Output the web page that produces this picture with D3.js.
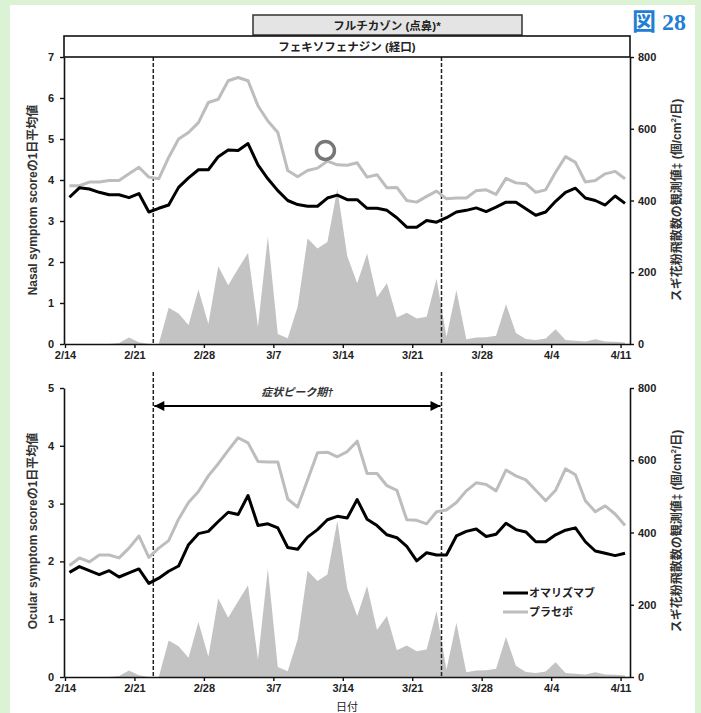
<!DOCTYPE html>
<html>
<head>
<meta charset="utf-8">
<script src="https://cdn.jsdelivr.net/npm/d3@7"></script>
<style>
  body { margin: 0; background: #dcf2d4; }
  svg { display: block; }
  .tick text { font-family: "Liberation Sans", Arial, sans-serif; font-weight: bold; font-size: 11px; fill: #222; }
</style>
</head>
<body>
<script>
"use strict";

// days counted from 2/14 (day 0) to 4/11 (day 56)
var tickLabels = ['2/14', '2/21', '2/28', '3/7', '3/14', '3/21', '3/28', '4/4', '4/11'];

var nasalOmalizumab = [3.58, 3.81, 3.78, 3.70, 3.64, 3.64, 3.57, 3.67, 3.22, 3.31,
    3.39, 3.82, 4.05, 4.25, 4.25, 4.57, 4.73, 4.72, 4.89, 4.37,
    4.03, 3.74, 3.50, 3.40, 3.36, 3.36, 3.56, 3.63, 3.52, 3.52,
    3.31, 3.31, 3.26, 3.08, 2.85, 2.85, 3.01, 2.97, 3.08, 3.22,
    3.26, 3.32, 3.23, 3.34, 3.46, 3.46, 3.30, 3.14, 3.22, 3.48,
    3.70, 3.80, 3.56, 3.50, 3.39, 3.61, 3.43];

var nasalPlacebo = [3.86, 3.86, 3.95, 3.95, 3.99, 3.99, 4.15, 4.31, 4.07, 4.03,
    4.55, 5.00, 5.16, 5.40, 5.89, 5.97, 6.42, 6.50, 6.42, 5.81,
    5.44, 5.16, 4.23, 4.08, 4.23, 4.29, 4.46, 4.37, 4.36, 4.42,
    4.07, 4.13, 3.81, 3.82, 3.50, 3.46, 3.60, 3.73, 3.54, 3.56,
    3.56, 3.74, 3.76, 3.65, 4.04, 3.93, 3.91, 3.70, 3.76, 4.19,
    4.57, 4.43, 3.95, 3.99, 4.15, 4.21, 4.03];

var ocularOmalizumab = [1.81, 1.91, 1.84, 1.77, 1.84, 1.73, 1.80, 1.87, 1.62, 1.71,
    1.83, 1.92, 2.29, 2.48, 2.52, 2.69, 2.85, 2.81, 3.14, 2.62,
    2.65, 2.58, 2.24, 2.21, 2.42, 2.55, 2.72, 2.78, 2.75, 3.07,
    2.73, 2.62, 2.46, 2.41, 2.26, 2.01, 2.15, 2.11, 2.11, 2.44,
    2.52, 2.56, 2.43, 2.47, 2.66, 2.55, 2.51, 2.34, 2.34, 2.46,
    2.54, 2.58, 2.34, 2.18, 2.14, 2.10, 2.14];

var ocularPlacebo = [1.93, 2.06, 1.99, 2.11, 2.11, 2.06, 2.23, 2.44, 2.07, 2.23,
    2.36, 2.73, 3.02, 3.21, 3.48, 3.69, 3.92, 4.14, 4.05, 3.73,
    3.72, 3.72, 3.08, 2.94, 3.41, 3.88, 3.89, 3.81, 3.90, 4.08,
    3.52, 3.52, 3.31, 3.23, 2.72, 2.71, 2.65, 2.86, 2.89, 3.02,
    3.22, 3.36, 3.33, 3.22, 3.58, 3.48, 3.41, 3.23, 3.05, 3.23,
    3.60, 3.50, 3.05, 2.86, 2.96, 2.82, 2.62];

// cedar pollen count (grains/cm2/day)
var pollen = [0, 0, 0, 0, 0, 3, 18, 5, 0, 0,
    101, 85, 53, 152, 56, 217, 164, 210, 254, 48,
    300, 28, 16, 104, 294, 266, 284, 432, 245, 169,
    252, 130, 169, 74, 87, 71, 76, 182, 20, 150,
    13, 18, 19, 23, 111, 31, 14, 11, 15, 41,
    11, 9, 7, 13, 7, 6, 4];

var peakPeriod = [8.45, 37.5];
var legendNames = ['オマリズマブ', 'プラセボ'];
var circleMark = {day: 25.8, value: 4.72};

var W = 701, H = 713;
var FONT = '"Liberation Sans", Arial, "Noto Sans CJK JP", sans-serif';

var svg = d3.select('body').append('svg').attr('width', W).attr('height', H);

// white sheet on green page
svg.append('rect').attr('x', 10).attr('y', 5).attr('width', 685).attr('height', H - 5).attr('fill', '#fff');

svg.append('text')
    .attr('x', 686).attr('y', 30)
    .attr('text-anchor', 'end')
    .attr('font-family', '"Liberation Serif", "Noto Sans CJK JP", serif')
    .attr('font-size', 24)
    .attr('font-weight', 'bold')
    .attr('fill', '#1f7fd4')
    .text('図 28');

var x = d3.scaleLinear().domain([-0.55, 56.5]).range([64, 630]);
var yPollenMax = 800;

function drawPanel(cfg) {

    var y = d3.scaleLinear().domain([0, cfg.yMax]).range([cfg.bottom, cfg.top]);
    var yp = d3.scaleLinear().domain([0, yPollenMax]).range([cfg.bottom, cfg.top]);
    var g = svg.append('g');

    // pollen area
    g.append('path')
        .datum(pollen)
        .attr('fill', '#c3c3c3')
        .attr('d', d3.area()
            .x(function(d, i) { return x(i); })
            .y0(yp(0))
            .y1(function(d) { return yp(d); }));

    // peak period dashed lines
    g.selectAll('line.peak')
        .data(peakPeriod)
        .enter().append('line')
        .attr('class', 'peak')
        .attr('x1', function(d) { return x(d); })
        .attr('x2', function(d) { return x(d); })
        .attr('y1', cfg.dashTop)
        .attr('y2', cfg.bottom)
        .attr('stroke', '#222')
        .attr('stroke-width', 1.5)
        .attr('stroke-dasharray', '4,2');

    var line = d3.line()
        .x(function(d, i) { return x(i); })
        .y(function(d) { return y(d); });

    g.append('path').datum(cfg.placebo)
        .attr('fill', 'none').attr('stroke', '#bdbdbd').attr('stroke-width', 3)
        .attr('stroke-linejoin', 'round').attr('d', line);

    g.append('path').datum(cfg.omalizumab)
        .attr('fill', 'none').attr('stroke', '#000').attr('stroke-width', 3)
        .attr('stroke-linejoin', 'round').attr('d', line);

    // axes
    var left = g.append('g')
        .attr('transform', 'translate(64,0)')
        .call(d3.axisLeft(y).tickValues(d3.range(0, cfg.yMax + 1)).tickFormat(d3.format('d'))
            .tickSize(4).tickSizeOuter(0).tickPadding(6));

    var right = g.append('g')
        .attr('transform', 'translate(630,0)')
        .call(d3.axisRight(yp).tickValues([0, 200, 400, 600, 800]).tickFormat(d3.format('d'))
            .tickSize(4).tickSizeOuter(0).tickPadding(4));

    var bottom = g.append('g')
        .attr('transform', 'translate(0,' + cfg.bottom + ')')
        .call(d3.axisBottom(x)
            .tickValues(tickLabels.map(function(t, i) { return i * 7 - 0.45; }))
            .tickFormat(function(d, i) { return tickLabels[i]; })
            .tickSize(4).tickSizeOuter(0).tickPadding(3));

    [left, right, bottom].forEach(function(a) {
        a.select('.domain').attr('stroke', '#111').attr('stroke-width', 1.6);
        a.selectAll('.tick line').attr('stroke', '#111').attr('stroke-width', 1.4);
    });

    // axis titles
    g.append('text')
        .attr('transform', 'translate(37,' + cfg.titleY + ') rotate(-90)')
        .attr('text-anchor', 'middle')
        .attr('font-family', FONT)
        .attr('font-size', 12)
        .attr('font-weight', 'bold')
        .attr('fill', '#333')
        .text(cfg.title);

    var rt = g.append('text')
        .attr('transform', 'translate(681,' + cfg.titleY + ') rotate(-90)')
        .attr('text-anchor', 'middle')
        .attr('font-family', FONT)
        .attr('font-size', 12)
        .attr('font-weight', 'bold')
        .attr('fill', '#333');
    rt.append('tspan').text('スギ花粉飛散数の観測値‡ (個/cm');
    rt.append('tspan').attr('font-size', 8).attr('dy', -5).text('2');
    rt.append('tspan').attr('dy', 5).text('/日)');

    return {y: y, g: g};
}

// top panel: nasal
var nasalPanel = drawPanel({
    top: 57, bottom: 344, dashTop: 57, yMax: 7,
    omalizumab: nasalOmalizumab, placebo: nasalPlacebo,
    title: 'Nasal symptom  scoreの1日平均値', titleY: 200
});

// header boxes
svg.append('rect').attr('x', 253).attr('y', 15).attr('width', 269).attr('height', 20)
    .attr('fill', '#e4e4e4').attr('stroke', '#333').attr('stroke-width', 1.5);
svg.append('text').attr('x', 387).attr('y', 30).attr('text-anchor', 'middle')
    .attr('font-family', FONT).attr('font-weight', 'bold').attr('font-size', 11.5).attr('fill', '#222')
    .text('フルチカゾン (点鼻)*');
svg.append('rect').attr('x', 64).attr('y', 36).attr('width', 566).attr('height', 21)
    .attr('fill', '#fff').attr('stroke', '#111').attr('stroke-width', 1.6);
svg.append('text').attr('x', 347).attr('y', 51).attr('text-anchor', 'middle')
    .attr('font-family', FONT).attr('font-weight', 'bold').attr('font-size', 11.5).attr('fill', '#222')
    .text('フェキソフェナジン (経口)');

nasalPanel.g.append('circle')
    .attr('cx', x(circleMark.day))
    .attr('cy', nasalPanel.y(circleMark.value))
    .attr('r', 9)
    .attr('fill', 'none')
    .attr('stroke', '#777')
    .attr('stroke-width', 3.5);

// bottom panel: ocular
var ocularPanel = drawPanel({
    top: 388, bottom: 677, dashTop: 372, yMax: 5,
    omalizumab: ocularOmalizumab, placebo: ocularPlacebo,
    title: 'Ocular symptom  scoreの1日平均値', titleY: 531
});

// peak period arrow
var defs = svg.append('defs');
defs.append('marker')
    .attr('id', 'arrow')
    .attr('viewBox', '0 0 10 10')
    .attr('refX', 10).attr('refY', 5)
    .attr('markerWidth', 12).attr('markerHeight', 10)
    .attr('markerUnits', 'userSpaceOnUse')
    .attr('orient', 'auto-start-reverse')
    .append('path').attr('d', 'M0,0 L10,5 L0,10 Z').attr('fill', '#000');

ocularPanel.g.append('line')
    .attr('x1', x(peakPeriod[0]) + 1).attr('x2', x(peakPeriod[1]) - 1)
    .attr('y1', 406).attr('y2', 406)
    .attr('stroke', '#000').attr('stroke-width', 2)
    .attr('marker-start', 'url(#arrow)')
    .attr('marker-end', 'url(#arrow)');

ocularPanel.g.append('text')
    .attr('x', (x(peakPeriod[0]) + x(peakPeriod[1])) / 2)
    .attr('y', 396)
    .attr('text-anchor', 'middle')
    .attr('font-family', FONT).attr('font-weight', 'bold').attr('font-style', 'italic')
    .attr('font-size', 11).attr('fill', '#333')
    .text('症状ピーク期†');

// legend
var legend = ocularPanel.g.append('g').attr('transform', 'translate(503,593)');
var legendColors = ['#000', '#bdbdbd'];
legendNames.forEach(function(name, i) {
    legend.append('line')
        .attr('x1', 0).attr('x2', 25).attr('y1', i * 19).attr('y2', i * 19)
        .attr('stroke', legendColors[i]).attr('stroke-width', 3);
    legend.append('text')
        .attr('x', 26).attr('y', i * 19 + 4)
        .attr('font-family', FONT).attr('font-weight', 'bold').attr('font-size', 11).attr('fill', '#222')
        .text(name);
});

// x title sits at the bottom edge, as in the source figure
svg.append('text')
    .attr('x', 347).attr('y', 711)
    .attr('text-anchor', 'middle')
    .attr('font-family', FONT).attr('font-size', 11).attr('fill', '#222')
    .text('日付');
</script>
</body>
</html>
